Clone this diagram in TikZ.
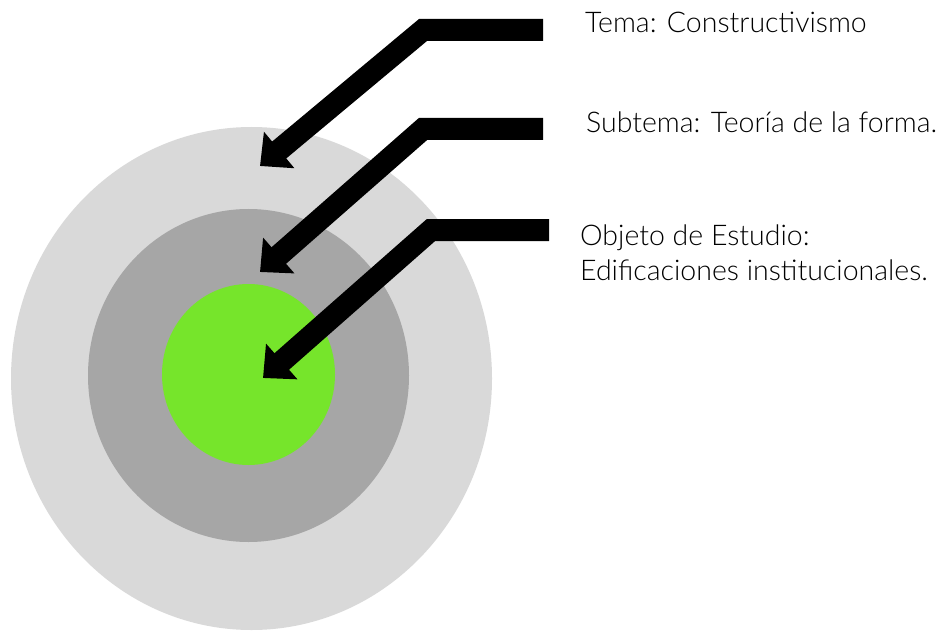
\documentclass[tikz,border=0pt]{standalone}
\usepackage{fontspec}
\setmainfont{Lato Light}
\usetikzlibrary{arrows.meta}
\definecolor{outergray}{HTML}{D9D9D9}
\definecolor{midgray}{HTML}{A6A6A6}
\definecolor{core}{HTML}{76E52B}
\begin{document}
\begin{tikzpicture}[x=1pt,y=-1pt,
  ptr/.style={line width=22pt, line join=miter, line cap=butt,
    -{Triangle[width=46pt,length=25pt]}},
  lbl/.style={anchor=base west, inner sep=0pt, font=\fontsize{28.5}{35}\selectfont, align=left}]
\useasboundingbox (0,0) rectangle (950,631);
\fill[outergray] (251.5,378.5) ellipse [x radius=240.5, y radius=251.5];
\fill[midgray] (248.5,375.5) ellipse [x radius=160.5, y radius=166.5];
\fill[core] (248.5,374.5) ellipse [x radius=86.5, y radius=90.5];
% arrow 1
\coordinate (a1s) at (543,30);
\coordinate (a1b) at (423,30);
\coordinate (a1t) at (260,166);
\draw[ptr] (a1s) -- (a1b) -- (a1t);
% arrow 2
\coordinate (a2s) at (543,129);
\coordinate (a2b) at (423,129);
\coordinate (a2t) at (260,272);
\draw[ptr] (a2s) -- (a2b) -- (a2t);
% arrow 3
\coordinate (a3s) at (549,230);
\coordinate (a3b) at (431,230);
\coordinate (a3t) at (263,378);
\draw[ptr] (a3s) -- (a3b) -- (a3t);
\node[lbl] (t1) at (585,33) {Tema: Constructivismo};
\node[lbl] (t2) at (586,133) {Subtema: Teoría de la forma.};
\node[lbl] (t3) at (580,280) {Objeto de Estudio:\\Edificaciones institucionales.};
\end{tikzpicture}
\end{document}
